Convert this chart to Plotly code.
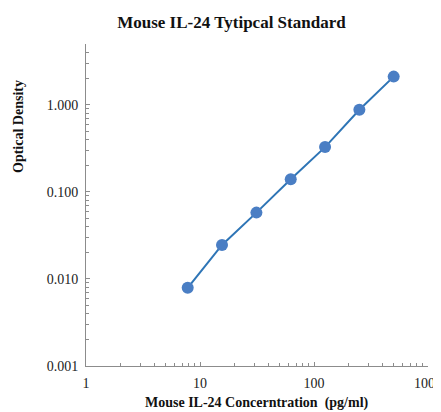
import plotly.graph_objects as go

concentration = [7.8, 15.6, 31.25, 62.5, 125, 250, 500]
optical_density = [0.0079, 0.0246, 0.0578, 0.140, 0.327, 0.877, 2.11]

y_tickvals = [0.001, 0.01, 0.1, 1]
y_ticktext = ["0.001", "0.010", "0.100", "1.000"]
x_tickvals = [1, 10, 100, 1000]
x_ticktext = ["1", "10", "100", "1000"]

fig = go.Figure()
fig.add_trace(go.Scatter(
    x=concentration, y=optical_density, mode="lines+markers",
    line=dict(color="#2E75B6", width=2),
    marker=dict(color="#4A7EC4", size=12, line=dict(width=0)),
    showlegend=False,
))

font_family = "Liberation Serif"
# page body has an 8px margin: figure is drawn at (8, 8)
fig.update_layout(
    width=433, height=404,
    margin=dict(l=78, r=13, t=36, b=46, autoexpand=False),
    paper_bgcolor="white", plot_bgcolor="white",
    font=dict(family=font_family, color="#222", size=14),
    title=dict(text="<b>Mouse IL-24 Tytipcal Standard</b>", x=0.516, xanchor="center",
               y=1 - 14 / 404, yanchor="middle", font=dict(size=17, family=font_family, color="#111")),
    annotations=[
        dict(text="<b>Mouse IL-24 Concerntration  (pg/ml)</b>", xref="paper", yref="paper",
             x=0.5, y=-(403 - 366) / 322, xanchor="center", yanchor="middle", showarrow=False,
             font=dict(size=14, family=font_family, color="#111")),
        dict(text="<b>Optical Density</b>", xref="paper", yref="paper",
             x=-(86 - 18) / 342, y=(366 - 127) / 322, xanchor="center", yanchor="middle",
             textangle=-90, showarrow=False,
             font=dict(size=14, family=font_family, color="#111")),
    ],
)
fig.update_xaxes(
    type="log", range=[0, 3], tickvals=x_tickvals, ticktext=x_ticktext, automargin=False,
    showgrid=False, zeroline=False, showline=True, linecolor="#8c8c8c", linewidth=1,
    ticks="inside", ticklen=4, tickcolor="#8c8c8c", ticklabelstandoff=4,
    ticklabeloverflow="allow",
    minor=dict(ticks="inside", ticklen=3, tickcolor="#8c8c8c", dtick="D1", showgrid=False),
    tickfont=dict(size=14, family=font_family, color="#222"),
)
fig.update_yaxes(
    type="log", range=[-3, 0.69897], tickvals=y_tickvals, ticktext=y_ticktext, automargin=False,
    showgrid=False, zeroline=False, showline=True, linecolor="#8c8c8c", linewidth=1,
    ticks="inside", ticklen=4, tickcolor="#8c8c8c", ticklabelstandoff=4,
    minor=dict(ticks="inside", ticklen=3, tickcolor="#8c8c8c", dtick="D1", showgrid=False),
    tickfont=dict(size=14, family=font_family, color="#222"),
)

fig.write_html("out.html")
